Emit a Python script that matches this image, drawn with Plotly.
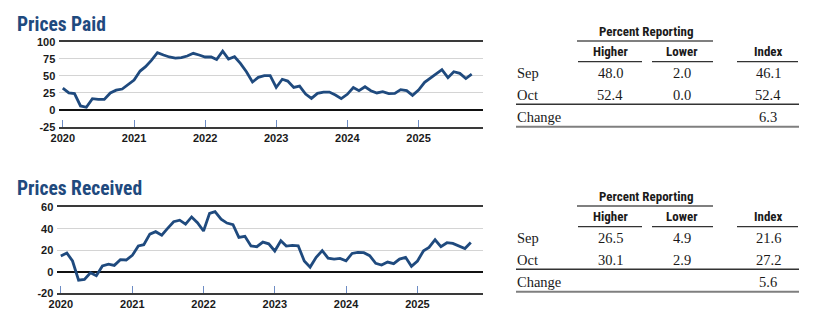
import pandas as pd
import plotly.graph_objects as go

W, H = 821, 324

months = pd.date_range("2020-01-01", periods=70, freq="MS")

prices_paid = [32, 25, 24, 6, 4, 16.6, 15.6, 15.6, 25, 29, 30.7, 36.6,
               43.9, 57, 63.4, 73, 84, 80.5, 77.6, 76, 76.6, 79, 83, 80.5,
               77.6, 77.6, 74, 86.3, 74.6, 78, 68.3, 56, 41, 47.8, 50.2, 50.2,
               33, 45, 42.4, 33, 35, 23.4, 17, 24.4, 26.3, 26.3, 22, 16.6,
               23, 33, 28.3, 34, 28.3, 25, 26.8, 24, 24.4, 29.8, 28.3, 21.5,
               29.3, 40.5, 46, 52.7, 59, 47.3, 56, 53.7, 46.1, 52.4]

prices_received = [14.6, 17.4, 10, -7.8, -7.1, -1, -3.7, 5.3, 7.1, 5.9, 11.2, 10.9,
                   15.2, 24, 25.2, 35, 37.3, 34, 40.4, 46.6, 48, 44.4, 51, 45.6,
                   37.9, 54.3, 56, 49, 45.3, 43.8, 32, 33, 24, 23.3, 27.6, 26,
                   19.3, 28.9, 23.9, 24.5, 24.2, 10, 4.3, 13.4, 19.6, 12.7, 11.8, 12.4,
                   10.2, 17, 18, 17.7, 14.9, 7.8, 6.2, 9, 7.5, 11.8, 13.4, 5,
                   10, 19.6, 22.7, 29.8, 23.3, 27, 26.4, 24, 21.6, 27.2]

paid_ticks = [-25, 0, 25, 50, 75, 100]
paid_ticktext = ["-25", "0", "25", "50", "75", "100"]
received_ticks = [-20, 0, 20, 40, 60]
received_ticktext = ["-20", "0", "20", "40", "60"]

titles = ["Prices Paid", "Prices Received"]
table_header_group = "Percent Reporting"
table_columns = ["Higher", "Lower", "Index"]
table_rows = ["Sep", "Oct", "Change"]
paid_table = [["48.0", "2.0", "46.1"], ["52.4", "0.0", "52.4"], ["", "", "6.3"]]
received_table = [["26.5", "4.9", "21.6"], ["30.1", "2.9", "27.2"], ["", "", "5.6"]]

LINE = "#1f4a7e"
TITLE = "#1f4a7e"
TXT = "#1a1a1a"


def X(p):
    return p / W


def Y(p):
    return 1 - p / H


fig = go.Figure()
fig.add_trace(go.Scatter(x=months, y=prices_paid, mode="lines",
                         line=dict(color=LINE, width=2.8), xaxis="x", yaxis="y",
                         showlegend=False))
fig.add_trace(go.Scatter(x=months, y=prices_received, mode="lines",
                         line=dict(color=LINE, width=2.8), xaxis="x2", yaxis="y2",
                         showlegend=False))

tickfont = dict(family="Liberation Sans, Arial", size=11, color=TXT, weight="bold")

xcommon = dict(type="date", dtick="M12", tickformat="%Y", showgrid=False,
               showline=True, mirror=True, linecolor="#3a3a3a", linewidth=2,
               ticks="inside", ticklen=7, tickwidth=1, tickcolor="#6d8cc4",
               tickfont=tickfont, fixedrange=True, zeroline=False, automargin=False)
ycommon = dict(showgrid=True, gridcolor="#d4d4d4", gridwidth=1,
               zeroline=True, zerolinecolor="#111111", zerolinewidth=2.4,
               showline=False, ticks="", tickfont=tickfont, fixedrange=True,
               automargin=False, tickmode="array", ticklabelstandoff=3)

layout = dict(
    width=W, height=H, margin=dict(l=0, r=0, t=0, b=0, autoexpand=False),
    paper_bgcolor="white", plot_bgcolor="white",
    xaxis=dict(xcommon, domain=[X(59.3), X(483)], anchor="y",
               range=["2019-12-14", "2025-11-28"]),
    yaxis=dict(ycommon, domain=[Y(127.1), Y(41.7)], anchor="x",
               range=[-25, 100], tickvals=paid_ticks, ticktext=paid_ticktext),
    xaxis2=dict(xcommon, domain=[X(57.3), X(482.7)], anchor="y2",
                range=["2019-12-14", "2025-12-01"]),
    yaxis2=dict(ycommon, domain=[Y(293.2), Y(207.3)], anchor="x2",
                range=[-20, 60], tickvals=received_ticks, ticktext=received_ticktext),
)
fig.update_layout(**layout)

annotations = []
shapes = []


def ann(text, x, y, size, family, color=TXT, xanchor="center", weight="normal"):
    annotations.append(dict(text=text, x=X(x), y=Y(y), xref="paper", yref="paper",
                            xanchor=xanchor, yanchor="middle", showarrow=False,
                            borderpad=0,
                            font=dict(family=family, size=size, color=color, weight=weight)))


def hline(x0, x1, y, color, width):
    shapes.append(dict(type="line", xref="paper", yref="paper",
                       x0=X(x0), x1=X(x1), y0=Y(y), y1=Y(y),
                       line=dict(color=color, width=width)))


SANS_N = "Roboto Condensed, Roboto"
SERIF = "Liberation Serif, Times New Roman, serif"

for k, (title, tbl) in enumerate(zip(titles, [paid_table, received_table])):
    off = 165 * k
    ann(title, 15.5, 24.3 + off - (0.5 if k else 0), 19.5, SANS_N, color=TITLE,
        xanchor="left", weight="bold")
    ann(table_header_group, 646, 31.2 + off, 13, SANS_N, weight="bold")
    hline(577, 713, 41 + off, "#7f7f7f", 2)
    col_x = [610, 682, 768]
    for cx, name in zip(col_x, table_columns):
        ann(name, cx, 51.2 + off, 13, SANS_N, weight="bold")
    hline(578, 642, 61.7 + off, "#333333", 1.2)
    hline(652, 713, 61.7 + off, "#333333", 1.2)
    hline(737, 798, 61.7 + off, "#333333", 1.2)
    row_y = [73.4, 95.1, 116.8]
    for ry, rname, vals in zip(row_y, table_rows, tbl):
        ann(rname, 516, ry + off, 14.5, SERIF, xanchor="left")
        for cx, v in zip(col_x, vals):
            if v:
                ann(v, cx, ry + off, 14.5, SERIF)
    hline(516, 799, 104.3 + off, "#333333", 1.5)
    hline(516, 799, 126.7 + off, "#7f7f7f", 2)

fig.update_layout(annotations=annotations, shapes=shapes)

fig.write_html("out.html", config={"displayModeBar": False})
